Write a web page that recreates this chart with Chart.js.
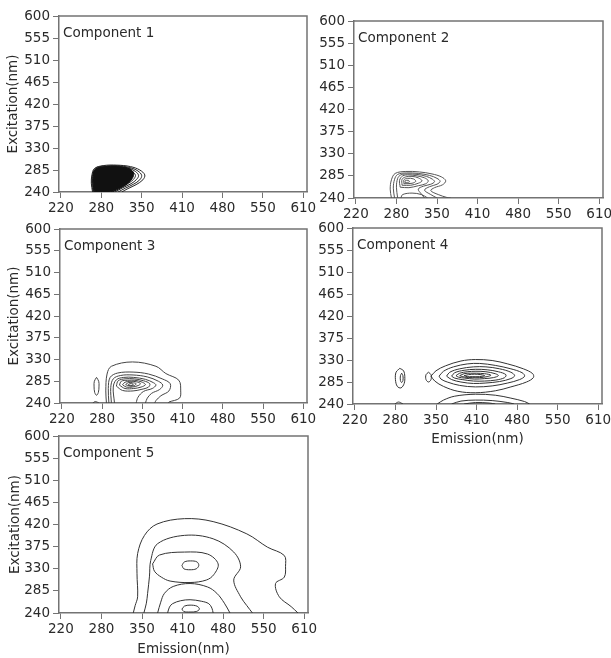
<!DOCTYPE html>
<html>
<head>
<meta charset="utf-8">
<script src="https://cdn.jsdelivr.net/npm/chart.js@4.4.1/dist/chart.umd.min.js"></script>
<style>
    html, body { margin: 0; padding: 0; background: #fff; }
    body { width: 611px; height: 658px; position: relative; overflow: hidden; }
    canvas { position: absolute; }
</style>
</head>
<body>
<canvas id="c1"></canvas>
<canvas id="c2"></canvas>
<canvas id="c3"></canvas>
<canvas id="c4"></canvas>
<canvas id="c5"></canvas>
<script>
// axis ticks (the emission labels sit at evenly spaced positions)
const xTickValues = [220, 285, 350, 415, 480, 545, 610];
const xTickLabels = ['220', '280', '350', '410', '480', '550', '610'];
const yTickValues = [240, 285, 330, 375, 420, 465, 510, 555, 600];

// contour lines, [emission, excitation]
// Component 1: dense black core + outer rings
const comp1Core = [[274,240],[272,256],[272,272],[274,284],[282,290],[300,292],[318,291],[331,287],[337,279],[335,268],[327,257],[315,248],[303,241],[296,240]];
const comp1Rings = [
    [[271,240],[269,258],[270,275],[274,288],[288,294],[310,295],[332,292],[347,285],[355,275],[352,265],[341,255],[328,247],[318,240]],
    [[272,240],[270,258],[271,276],[276,289],[290,293],[311,294],[331,290],[344,283],[350,274],[347,265],[337,256],[324,248],[312,240]],
    [[273,240],[271,258],[272,276],[277,288],[291,292],[311,293],[329,289],[340,282],[345,274],[342,266],[333,257],[320,249],[307,240]],
    [[273,240],[272,258],[273,277],[278,288],[292,291],[311,292],[327,288],[336,281],[340,274],[337,266],[329,258],[317,249],[303,240]]
];

// Component 2
const comp2Rings = [
    [[277,240],[275,258],[277,277],[283,290],[300,294],[322,293],[342,289],[357,283],[364,275],[359,267],[346,261],[340,255],[352,247],[366,241],[372,240]],
    [[282,240],[280,260],[282,278],[287,288],[301,291],[320,290],[338,286],[350,280],[355,274],[350,268],[338,263],[330,256],[340,247],[350,240]],
    [[287,240],[285,262],[287,280],[292,287],[303,289],[318,288],[333,284],[343,278],[346,273],[340,268],[328,264],[320,258],[325,248],[330,240]],
    [[291,262],[290,276],[295,285],[305,287],[318,285],[330,281],[336,275],[332,269],[320,265],[305,261],[291,262]],
    [[294,266],[294,278],[300,283],[310,284],[320,281],[326,275],[320,270],[308,266],[294,266]],
    [[297,269],[297,277],[303,280],[312,279],[316,274],[310,270],[297,269]],
    [[299,271],[299,275],[304,276],[306,273],[299,271]],
    [[292,240],[295,247],[310,250],[325,247],[335,240]]
];

// Component 3
const comp3Rings = [
    [[292,240],[291,265],[293,300],[300,316],[334,325],[372,316],[388,301],[409,287],[412,265],[410,250],[393,242],[392,240]],
    [[296,240],[295,270],[298,293],[310,302],[335,304],[360,300],[382,290],[395,280],[393,265],[380,255],[372,245],[370,240]],
    [[300,240],[299,272],[303,290],[315,297],[335,298],[358,294],[376,285],[383,277],[378,268],[365,260],[358,250],[355,240]],
    [[305,240],[303,273],[308,288],[320,293],[336,293],[355,289],[368,282],[372,277],[366,270],[352,264],[343,252],[340,240]],
    [[308,275],[311,286],[322,290],[337,290],[352,286],[362,280],[360,273],[348,268],[335,265],[318,266],[308,275]],
    [[313,277],[316,285],[326,287],[338,287],[350,283],[355,278],[348,273],[336,270],[322,270],[313,277]],
    [[318,278],[322,283],[330,285],[340,284],[347,280],[343,276],[334,273],[324,273],[318,278]],
    [[323,278],[327,282],[334,282],[340,280],[337,276],[330,275],[323,278]],
    [[327,277],[330,280],[335,279],[334,276],[327,277]],
    [[276,293],[279.5,285],[280,275],[279,262],[276,256],[273,262],[272,275],[272.5,285],[276,293]],
    [[270,240],[274,243],[280,240]]
];

// Component 4
const comp4Rings = [
    [[342,297],[350,308],[365,318],[390,328],[413,331],[440,329],[465,322],[490,312],[505,302],[506,294],[495,285],[470,275],[445,267],[413,263],[385,266],[362,276],[348,287],[342,297]],
    [[355,297],[362,307],[378,316],[400,322],[420,323],[445,319],[470,312],[488,304],[492,297],[484,290],[465,283],[440,277],[413,275],[388,278],[368,285],[358,291],[355,297]],
    [[367,297],[372,305],[388,312],[410,316],[430,316],[452,312],[470,305],[476,298],[470,292],[452,286],[430,283],[410,282],[390,285],[375,290],[367,297]],
    [[375,297],[380,304],[395,309],[413,311],[432,310],[450,306],[462,300],[460,294],[446,289],[428,287],[410,287],[392,290],[380,293],[375,297]],
    [[382,298],[388,303],[400,306],[414,307],[430,306],[445,302],[450,298],[442,294],[428,292],[412,291],[396,293],[386,295],[382,298]],
    [[388,298],[395,302],[405,303],[415,303],[428,302],[438,299],[432,296],[420,294],[408,294],[396,295],[388,298]],
    [[395,298],[402,300],[412,301],[422,300],[428,298],[420,296],[408,296],[400,296],[395,298]],
    [[352,240],[362,248],[380,256],[413,260],[445,258],[470,252],[492,245],[500,240]],
    [[375,240],[390,246],[413,248],[440,247],[465,243],[475,240]],
    [[395,240],[413,243],[435,242],[445,240]],
    [[292,313],[298,308],[300,296],[299,282],[294,273],[288,276],[285,290],[286,305],[292,313]],
    [[295,303],[297,298],[297,288],[295,284],[293,288],[293,298],[295,303]],
    [[338,305],[342,300],[342,290],[338,285],[334,290],[334,300],[338,305]],
    [[284,240],[290,244],[297,240]]
];

// Component 5
const comp5Rings = [
    [[336,240],[339,255],[343,273],[342,320],[343,361],[354,398],[374,421],[418,432],[464,426],[518,401],[551,374],[578,357],[580,335],[578,313],[564,300],[570,273],[589,253],[600,240]],
    [[353,240],[357,260],[359,280],[362,315],[364,347],[375,381],[418,398],[464,391],[497,364],[508,334],[497,307],[508,273],[518,255],[527,240]],
    [[367,340],[378,358],[418,364],[455,360],[472,340],[465,318],[453,307],[427,302],[395,305],[381,313],[370,325],[367,340]],
    [[375,240],[380,262],[386,280],[400,294],[427,300],[455,293],[470,280],[482,260],[491,240]],
    [[414,337],[418,344],[428,346],[438,344],[441,337],[437,330],[427,328],[417,330],[414,337]],
    [[391,240],[394,252],[399,259],[412,265],[427,267],[445,264],[457,259],[462,250],[464,240]],
    [[414,248],[418,254],[427,256],[438,254],[442,248],[437,243],[427,242],[417,243],[414,248]]
];

const FONT = "'DejaVu Sans', Verdana, sans-serif";
const TEXT_COLOR = '#2a2a2a';
const AXIS_COLOR = '#737373';

// panel positions on the page: [left, right, top, bottom] of the plot area
const panels = [
    { id: 'c1', area: [59, 307, 15, 192], label: 'Component 1', rings: comp1Rings, core: comp1Core, color: '#222', yTitle: true, yPad: 5, xTitle: false, xPad: 0 },
    { id: 'c2', area: [354, 603, 20, 198], label: 'Component 2', rings: comp2Rings, core: null, color: '#555', yTitle: false, yPad: 0, xTitle: false, xPad: 0 },
    { id: 'c3', area: [60, 307, 228, 403], label: 'Component 3', rings: comp3Rings, core: null, color: '#444', yTitle: true, yPad: 5, xTitle: false, xPad: 0 },
    { id: 'c4', area: [353, 602, 227, 404], label: 'Component 4', rings: comp4Rings, core: null, color: '#333', yTitle: false, yPad: 0, xTitle: true, xPad: 1 },
    { id: 'c5', area: [59, 308, 435, 613], label: 'Component 5', rings: comp5Rings, core: null, color: '#333', yTitle: true, yPad: 7, xTitle: true, xPad: 0 }
];

// frame (top/right) and component label
const framePlugin = {
    id: 'frame',
    afterDraw(chart, args, opts) {
        const { ctx, chartArea: a } = chart;
        ctx.save();
        ctx.strokeStyle = AXIS_COLOR;
        ctx.lineWidth = 1.5;
        ctx.beginPath();
        ctx.moveTo(a.left, a.top);
        ctx.lineTo(a.right, a.top);
        ctx.lineTo(a.right, a.bottom);
        ctx.stroke();
        ctx.fillStyle = TEXT_COLOR;
        ctx.font = `13.5px ${FONT}`;
        ctx.textBaseline = 'middle';
        ctx.fillText(opts.label, a.left + 4, a.top + 17.5);
        ctx.restore();
    }
};

function toPoints(ring) {
    return ring.map(([x, y]) => ({ x, y }));
}

function makePanel(p) {
    const [l, r, t, b] = p.area;
    const axisW = 59, axisH = 45, padTop = 10, padRight = 16;
    const canvas = document.getElementById(p.id);
    canvas.width = (r - l) + axisW + padRight;
    canvas.height = (b - t) + padTop + axisH;
    canvas.style.left = (l - axisW) + 'px';
    canvas.style.top = (t - padTop) + 'px';

    const datasets = [];
    if (p.core) {
        datasets.push({
            data: toPoints(p.core),
            showLine: true,
            borderColor: '#111',
            backgroundColor: '#111',
            borderWidth: 1,
            pointRadius: 0,
            tension: 0.35,
            fill: 'shape'
        });
    }
    p.rings.forEach(ring => {
        datasets.push({
            data: toPoints(ring),
            showLine: true,
            borderColor: p.color,
            borderWidth: 1,
            pointRadius: 0,
            tension: 0.35,
            fill: false
        });
    });

    const grid = { drawOnChartArea: false, drawTicks: true, tickLength: 6, color: AXIS_COLOR, lineWidth: 1 };
    const border = { display: true, color: AXIS_COLOR, width: 1.5 };

    return new Chart(canvas, {
        type: 'scatter',
        data: { datasets },
        options: {
            responsive: false,
            animation: false,
            events: [],
            layout: { padding: { left: 0, right: padRight, top: padTop, bottom: 0 } },
            plugins: {
                legend: { display: false },
                tooltip: { enabled: false },
                frame: { label: p.label }
            },
            scales: {
                x: {
                    type: 'linear',
                    min: 217,
                    max: 616,
                    afterBuildTicks: s => { s.ticks = xTickValues.map(v => ({ value: v })); },
                    afterFit: s => { s.height = axisH; },
                    ticks: {
                        callback: (v, i) => xTickLabels[i],
                        color: TEXT_COLOR,
                        font: { family: FONT, size: 13.5 },
                        padding: 2,
                        maxRotation: 0,
                        autoSkip: false
                    },
                    grid,
                    border,
                    title: {
                        display: p.xTitle,
                        text: 'Emission(nm)',
                        color: TEXT_COLOR,
                        font: { family: FONT, size: 13.5 },
                        padding: { top: 0, bottom: p.xPad }
                    }
                },
                y: {
                    type: 'linear',
                    min: 240,
                    max: 600,
                    afterBuildTicks: s => { s.ticks = yTickValues.map(v => ({ value: v })); },
                    afterFit: s => { s.width = axisW; },
                    ticks: {
                        color: TEXT_COLOR,
                        font: { family: FONT, size: 13.5 },
                        padding: 3,
                        autoSkip: false
                    },
                    grid,
                    border,
                    title: {
                        display: p.yTitle,
                        text: 'Excitation(nm)',
                        color: TEXT_COLOR,
                        font: { family: FONT, size: 13.5 },
                        padding: { top: p.yPad, bottom: 0 }
                    }
                }
            }
        },
        plugins: [framePlugin]
    });
}

panels.forEach(makePanel);
</script>
</body>
</html>
